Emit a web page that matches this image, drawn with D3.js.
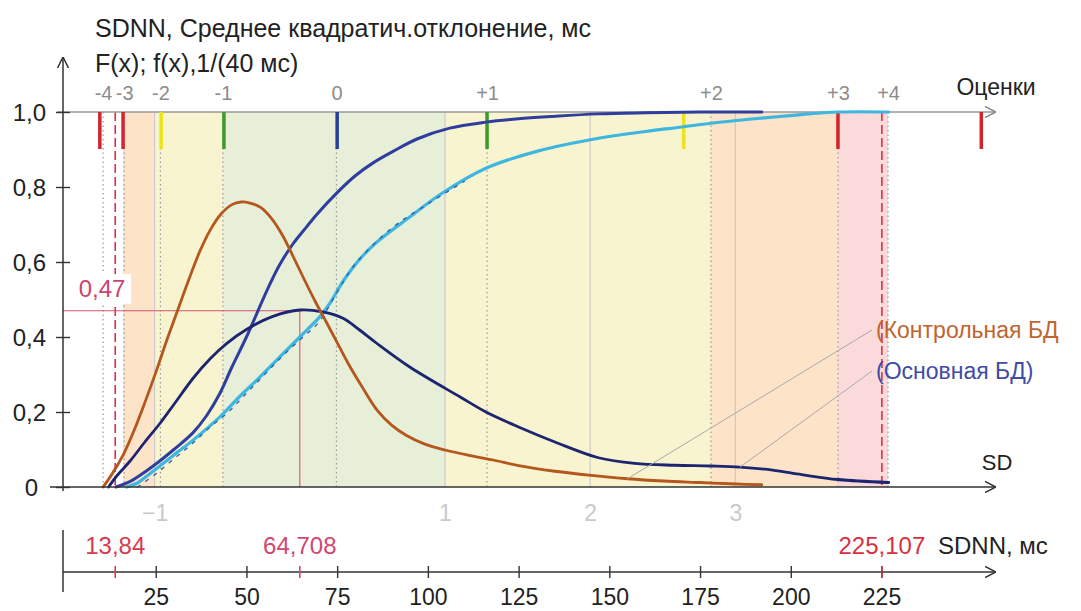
<!DOCTYPE html>
<html>
<head>
<meta charset="utf-8">
<script src="https://cdn.jsdelivr.net/npm/d3@7"></script>
<style>
  body { margin: 0; background: #fff; }
  svg { display: block; font-family: "Liberation Sans", Arial, sans-serif; }
</style>
</head>
<body>
<svg width="1081" height="611"></svg>
<script>
// ---- data ----
const mean = 64.708;      // ms
const sigma = 40;         // ms, one SD
const lowerLim = 13.84;   // ms
const upperLim = 225.107; // ms
const peakF = 0.47;

const msTicks = [25, 50, 75, 100, 125, 150, 175, 200, 225];
const probTicks = [0, 0.2, 0.4, 0.6, 0.8, 1];
const sdTicks = [-1, 1, 2, 3];

const scoreLabels = ["-4", "-3", "-2", "-1", "0", "+1", "+2", "+3", "+4"];
const scoreMs = [10.5, 16.3, 26.3, 43.5, 74.8, 116.3, 178, 213, 226.8];

const markerMs = [9.6, 16, 26.5, 43.8, 75, 116.3, 170.5, 213, 252.5];
const markerKind = ["crit", "crit", "warn", "ok", "mid", "ok", "warn", "crit", "crit"];

const bandFrom = [16, 24.7, 43.5, 104.7, 178, 213];
const bandTo = [24.7, 43.5, 104.7, 178, 213, 226.8];
const bandKind = ["orange", "yellow", "green", "yellow", "orange", "pink"];

// control DB density
const controlMs = [10.5, 13, 16, 19, 22, 25, 28, 31, 34, 37, 40, 43, 46, 48.5, 51, 54, 57, 60, 63, 66, 69, 72, 75, 78, 82, 86, 90, 94, 99, 105, 111, 118, 125, 135, 145, 155, 165, 175, 185, 192];
const controlPdf = [0, 0.035, 0.085, 0.15, 0.225, 0.305, 0.39, 0.47, 0.55, 0.625, 0.685, 0.728, 0.753, 0.76, 0.757, 0.745, 0.715, 0.67, 0.612, 0.552, 0.494, 0.44, 0.385, 0.33, 0.265, 0.205, 0.165, 0.138, 0.115, 0.098, 0.085, 0.072, 0.057, 0.042, 0.031, 0.022, 0.016, 0.012, 0.008, 0.006];

// main DB density
const mainMs = [12, 14.3, 18, 22, 26.2, 30, 35.3, 40, 44.6, 50, 57.3, 64.7, 71, 76.6, 81, 85.8, 95, 108.9, 116, 125, 135, 147, 157, 168, 178, 186, 195, 203, 213, 227];
const mainPdf = [0, 0.03, 0.07, 0.12, 0.17, 0.22, 0.29, 0.342, 0.383, 0.42, 0.455, 0.472, 0.467, 0.45, 0.42, 0.384, 0.32, 0.24, 0.2, 0.16, 0.12, 0.078, 0.063, 0.058, 0.056, 0.053, 0.045, 0.033, 0.02, 0.012];

// main DB distribution function
const mainCdfMs = [14, 18, 22, 26.2, 30, 35.3, 39, 42.7, 46, 50, 55.7, 59, 62.8, 66, 69.5, 75, 80, 85, 90.4, 97, 106, 116, 125, 134, 147, 160, 175, 192];
const mainCdf = [0, 0.015, 0.04, 0.07, 0.1, 0.145, 0.19, 0.25, 0.32, 0.4, 0.525, 0.59, 0.648, 0.687, 0.728, 0.785, 0.83, 0.865, 0.895, 0.928, 0.957, 0.973, 0.982, 0.988, 0.995, 0.998, 1, 1];

// control DB distribution function (smooth + empirical)
const controlCdfMs = [17, 19.8, 24, 28, 31, 35.3, 42.7, 48, 53.7, 59, 64.7, 70.3, 73, 76.6, 81, 85.8, 95, 104, 116, 130, 147, 160, 170, 178, 190, 197, 205, 213, 227];
const controlCdf = [0, 0.01, 0.04, 0.07, 0.093, 0.125, 0.187, 0.24, 0.293, 0.345, 0.4, 0.455, 0.49, 0.548, 0.605, 0.652, 0.72, 0.784, 0.85, 0.895, 0.93, 0.948, 0.96, 0.97, 0.982, 0.988, 0.995, 1, 1];
const empiricMs = [20, 25, 30, 35, 40, 45, 50, 55, 60, 65, 70, 75, 80, 90, 100, 110];
const empiricCdf = [0, 0.035, 0.075, 0.115, 0.16, 0.2, 0.25, 0.3, 0.35, 0.395, 0.44, 0.52, 0.595, 0.69, 0.755, 0.815];

// ---- drawing ----
const colors = {
  orange: "#fde4c9", yellow: "#f8f4cf", green: "#e7efd9", pink: "#fbdadc",
  crit: "#d2232e", warn: "#eee21e", ok: "#3c9a2c", mid: "#2a3c9a"
};

const svg = d3.select("svg");
const axisX = 63;
const x = d3.scaleLinear().domain([0, 225]).range([65, 881.5]);
const y = d3.scaleLinear().domain([0, 1]).range([487, 112]);
const sdX = d3.scaleLinear().domain([0, 1]).range([x(mean), x(mean + sigma)]);
const topY = y(1), baseY = y(0), bottomAxisY = 572, rightEnd = 996;

const defs = svg.append("defs");
function arrow(id, color) {
  defs.append("marker")
    .attr("id", id)
    .attr("viewBox", "0 0 10 10")
    .attr("refX", 10).attr("refY", 5)
    .attr("markerWidth", 11).attr("markerHeight", 14)
    .attr("markerUnits", "userSpaceOnUse")
    .attr("orient", "auto")
    .append("path")
    .attr("d", "M0,0 L10,5 L0,10")
    .attr("fill", "none")
    .attr("stroke", color)
    .attr("stroke-width", 1.4);
}
arrow("arrBlack", "#333");
arrow("arrGray", "#888");

// background bands
svg.append("g").selectAll("rect")
  .data(bandKind)
  .join("rect")
  .attr("x", (d, i) => x(bandFrom[i]))
  .attr("width", (d, i) => x(bandTo[i]) - x(bandFrom[i]))
  .attr("y", topY)
  .attr("height", baseY - topY)
  .attr("fill", d => colors[d]);

// SD grid lines
svg.append("g").selectAll("line")
  .data(sdTicks)
  .join("line")
  .attr("x1", d => sdX(d)).attr("x2", d => sdX(d))
  .attr("y1", topY).attr("y2", baseY)
  .attr("stroke", "#c4c4c4").attr("stroke-width", 1);

// score boundary dotted lines
svg.append("g").selectAll("line")
  .data(scoreMs)
  .join("line")
  .attr("x1", d => x(d)).attr("x2", d => x(d))
  .attr("y1", topY).attr("y2", baseY)
  .attr("stroke", "#9a9a9a").attr("stroke-width", 1.2)
  .attr("stroke-dasharray", "1.5,3");

// limits
svg.append("g").selectAll("line")
  .data([lowerLim, upperLim])
  .join("line")
  .attr("x1", d => x(d)).attr("x2", d => x(d))
  .attr("y1", topY).attr("y2", baseY)
  .attr("stroke", "#d8314a").attr("stroke-width", 1.6)
  .attr("stroke-dasharray", "9,4");

// mean / peak guide
svg.append("line")
  .attr("x1", axisX).attr("x2", x(mean))
  .attr("y1", y(peakF)).attr("y2", y(peakF))
  .attr("stroke", "#d9506f").attr("stroke-width", 1.1);
svg.append("line")
  .attr("x1", x(mean)).attr("x2", x(mean))
  .attr("y1", y(peakF)).attr("y2", baseY)
  .attr("stroke", "#d9506f").attr("stroke-width", 1.1);

// top score axis line (F = 1)
svg.append("line")
  .attr("x1", axisX - 6).attr("x2", rightEnd)
  .attr("y1", topY).attr("y2", topY)
  .attr("stroke", "#999").attr("stroke-width", 1.6)
  .attr("marker-end", "url(#arrGray)");

// coloured score markers
svg.append("g").selectAll("line")
  .data(markerMs)
  .join("line")
  .attr("x1", d => x(d)).attr("x2", d => x(d))
  .attr("y1", topY).attr("y2", topY + 37)
  .attr("stroke", (d, i) => colors[markerKind[i]])
  .attr("stroke-width", 3.5);

// curves
const line = d3.line()
  .x(d => x(d[0]))
  .y(d => y(d[1]))
  .curve(d3.curveCatmullRom.alpha(0.5));

const curves = [
  { ms: controlCdfMs, v: controlCdf, color: "#3fb6e0", w: 3.2, dash: null },
  { ms: empiricMs, v: empiricCdf, color: "#2a67b4", w: 1.4, dash: "3,7" },
  { ms: mainCdfMs, v: mainCdf, color: "#2f3e9e", w: 3, dash: null },
  { ms: mainMs, v: mainPdf, color: "#1d2470", w: 2.8, dash: null },
  { ms: controlMs, v: controlPdf, color: "#b5561c", w: 2.8, dash: null }
];
svg.append("g").selectAll("path")
  .data(curves)
  .join("path")
  .attr("d", c => line(d3.zip(c.ms, c.v)))
  .attr("fill", "none")
  .attr("stroke", c => c.color)
  .attr("stroke-width", c => c.w)
  .attr("stroke-dasharray", c => c.dash)
  .attr("stroke-linecap", "round");

// SD axis (y = 0)
svg.append("line")
  .attr("x1", axisX - 13).attr("x2", rightEnd)
  .attr("y1", baseY).attr("y2", baseY)
  .attr("stroke", "#333").attr("stroke-width", 1.5)
  .attr("marker-end", "url(#arrBlack)");

const sdAxis = svg.append("g")
  .attr("transform", `translate(0,${baseY})`)
  .call(d3.axisBottom(sdX).tickValues(sdTicks).tickSize(0).tickFormat(d3.format("d")));
sdAxis.select(".domain").remove();
sdAxis.selectAll(".tick text")
  .attr("y", 26).attr("dy", "0.35em")
  .attr("fill", "#c9c9c9")
  .style("font-size", "23px")
  .style("font-family", "inherit");

svg.append("text")
  .attr("x", 997).attr("y", baseY - 25).attr("dy", "0.35em")
  .attr("text-anchor", "middle")
  .style("font-size", "22px").attr("fill", "#222")
  .text("SD");

// y axis
svg.append("line")
  .attr("x1", axisX).attr("x2", axisX)
  .attr("y1", baseY + 4).attr("y2", 57)
  .attr("stroke", "#333").attr("stroke-width", 1.5)
  .attr("marker-end", "url(#arrBlack)");

const yAxis = svg.append("g")
  .attr("transform", `translate(${axisX},0)`)
  .call(d3.axisLeft(y).tickValues(probTicks)
    .tickFormat(d => d === 0 ? "0" : d3.format(".1f")(d).replace(".", ",")));
yAxis.select(".domain").remove();
yAxis.selectAll(".tick line").attr("x1", 7).attr("x2", -7).attr("stroke", "#333").attr("stroke-width", 1.4);
yAxis.selectAll(".tick text")
  .attr("x", d => d === 0 ? -25 : -17).attr("dy", "0.35em")
  .attr("fill", "#222")
  .style("font-size", "24px")
  .style("font-family", "inherit");

// score labels on the F = 1 line
const scoreAxis = svg.append("g")
  .attr("transform", `translate(0,${topY})`)
  .call(d3.axisTop(x).tickValues(scoreMs).tickSize(0).tickFormat((d, i) => scoreLabels[i]));
scoreAxis.select(".domain").remove();
scoreAxis.selectAll(".tick text")
  .attr("y", -19).attr("dy", "0.35em")
  .attr("fill", "#8c8c8c")
  .style("font-size", "20px")
  .style("font-family", "inherit");

svg.append("text")
  .attr("x", 996).attr("y", 87).attr("dy", "0.35em")
  .attr("text-anchor", "middle")
  .style("font-size", "23px").attr("fill", "#222")
  .text("Оценки");

// titles
svg.append("text")
  .attr("x", 95).attr("y", 28).attr("dy", "0.35em")
  .style("font-size", "25px").attr("fill", "#222")
  .text("SDNN, Среднее квадратич.отклонение, мс");
svg.append("text")
  .attr("x", 95).attr("y", 63).attr("dy", "0.35em")
  .style("font-size", "25px").attr("fill", "#222")
  .text("F(x); f(x),1/(40 мс)");

// 0,47 label
const peakLabel = svg.append("g");
peakLabel.append("rect")
  .attr("x", 74).attr("y", 274).attr("width", 57).attr("height", 30)
  .attr("fill", "#fff");
peakLabel.append("text")
  .attr("x", 102).attr("y", 289).attr("dy", "0.35em")
  .attr("text-anchor", "middle")
  .style("font-size", "24px").attr("fill", "#c8466e")
  .text(d3.format(".2f")(peakF).replace(".", ","));

// legend with leader lines
const legend = [
  { text: "(Контрольная БД", color: "#c0652e", ms: controlMs[35], v: controlPdf[35], ty: 330 },
  { text: "(Основная БД)", color: "#3f4ca6", ms: mainMs[25], v: mainPdf[25], ty: 371 }
];
svg.append("g").selectAll("line")
  .data(legend)
  .join("line")
  .attr("x1", d => x(d.ms)).attr("y1", d => y(d.v))
  .attr("x2", 872).attr("y2", d => d.ty)
  .attr("stroke", "#a9a9a9").attr("stroke-width", 1);
svg.append("g").selectAll("text")
  .data(legend)
  .join("text")
  .attr("x", 876).attr("y", d => d.ty).attr("dy", "0.35em")
  .style("font-size", "23px")
  .attr("fill", d => d.color)
  .text(d => d.text);

// bottom ms axis
svg.append("line")
  .attr("x1", axisX).attr("x2", axisX)
  .attr("y1", 530).attr("y2", 592)
  .attr("stroke", "#333").attr("stroke-width", 1.5);
svg.append("line")
  .attr("x1", axisX).attr("x2", rightEnd)
  .attr("y1", bottomAxisY).attr("y2", bottomAxisY)
  .attr("stroke", "#333").attr("stroke-width", 1.5)
  .attr("marker-end", "url(#arrBlack)");

const msAxis = svg.append("g")
  .attr("transform", `translate(0,${bottomAxisY})`)
  .call(d3.axisBottom(x).tickValues(msTicks));
msAxis.select(".domain").remove();
msAxis.selectAll(".tick line").attr("y1", -6).attr("y2", 6).attr("stroke", "#333").attr("stroke-width", 1.4);
msAxis.selectAll(".tick text")
  .attr("y", 25).attr("dy", "0.35em")
  .attr("fill", "#222")
  .style("font-size", "23px")
  .style("font-family", "inherit");

// red value marks on the ms axis
const redVals = [lowerLim, mean, upperLim];
const redFmt = [d3.format(".2f"), d3.format(".3f"), d3.format(".3f")];
const redColor = ["#d93a4e", "#d4466f", "#d93040"];
svg.append("g").selectAll("line")
  .data(redVals)
  .join("line")
  .attr("x1", d => x(d)).attr("x2", d => x(d))
  .attr("y1", bottomAxisY - 6).attr("y2", bottomAxisY + 6)
  .attr("stroke", (d, i) => redColor[i]).attr("stroke-width", 1.6);
svg.append("g").selectAll("text")
  .data(redVals)
  .join("text")
  .attr("x", d => x(d)).attr("y", 546).attr("dy", "0.35em")
  .attr("text-anchor", "middle")
  .style("font-size", "24px")
  .attr("fill", (d, i) => redColor[i])
  .text((d, i) => redFmt[i](d).replace(".", ","));
svg.append("text")
  .attr("x", 938).attr("y", 546).attr("dy", "0.35em")
  .style("font-size", "24px").attr("fill", "#222")
  .text("SDNN, мс");
</script>
</body>
</html>
